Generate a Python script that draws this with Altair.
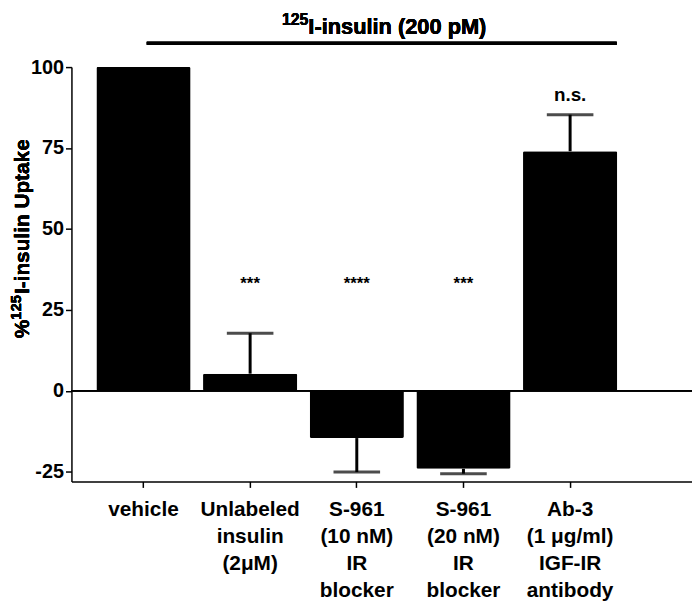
import altair as alt
import pandas as pd

categories = [
    "vehicle",
    "Unlabeled\ninsulin\n(2μM)",
    "S-961\n(10 nM)\nIR\nblocker",
    "S-961\n(20 nM)\nIR\nblocker",
    "Ab-3\n(1 μg/ml)\nIGF-IR\nantibody",
]
values = [100, 5.3, -14.6, -24.1, 74.0]

err_categories = categories[1:]
err_ends = [17.8, -25.1, -25.6, 85.3]
err_starts = values[1:]

sig_categories = categories[1:]
sig_labels = ["***", "****", "***", "n.s."]
sig_y = [33.0, 33.0, 33.0, 91.5]

y_ticks = [-25, 0, 25, 50, 75, 100]
y_domain = [-28, 100]

FONT = "Liberation Sans"

bars_df = pd.DataFrame({"cat": categories, "val": values})
err_df = pd.DataFrame({"cat": err_categories, "start": err_starts, "end": err_ends})
sig_df = pd.DataFrame({"cat": sig_categories, "label": sig_labels, "y": sig_y})
sig_star = sig_df[sig_df["label"] != "n.s."]
sig_ns = sig_df[sig_df["label"] == "n.s."]

W, H = 626, 418

x_scale = alt.Scale(paddingInner=0.117, paddingOuter=0.4675, align=0.25)
y_scale = alt.Scale(domain=y_domain, nice=False, zero=False)

x_enc = alt.X(
    "cat:N",
    sort=categories,
    scale=x_scale,
    axis=alt.Axis(
        title=None,
        labelAngle=0,
        labelExpr="split(datum.label, '\\n')",
        labelFont=FONT,
        labelFontSize=21,
        labelFontWeight="bold",
        labelLineHeight=27.5,
        labelColor="black",
        labelPadding=11,
        labelBaseline="top",
        tickSize=6,
        tickWidth=1.5,
        tickColor="black",
        domainColor="black",
        domainWidth=1.5,
    ),
)

y_axis = alt.Axis(
    title=None,
    values=y_ticks,
    grid=False,
    labelExpr="'' + datum.value",
    labelFont=FONT,
    labelFontSize=20,
    labelFontWeight="bold",
    labelColor="black",
    labelPadding=2,
    tickSize=6,
    tickWidth=1.5,
    tickColor="black",
    domainColor="black",
    domainWidth=1.5,
)

bars = alt.Chart(bars_df).mark_bar(color="black", cornerRadius=1.5).encode(
    x=x_enc,
    y=alt.Y("val:Q", scale=y_scale, axis=y_axis),
)

zero_line = alt.Chart(bars_df).mark_rule(color="black", strokeWidth=1.5).encode(
    y=alt.datum(0),
    x=alt.value(0),
    x2=alt.value(W),
)

err_rule = alt.Chart(err_df).mark_rule(color="black", strokeWidth=3).encode(
    x=alt.X("cat:N", sort=categories),
    y=alt.Y("start:Q"),
    y2="end:Q",
)

err_cap = alt.Chart(err_df).mark_tick(color="black", thickness=3, size=47, orient="horizontal").encode(
    x=alt.X("cat:N", sort=categories),
    y=alt.Y("end:Q"),
)

stars = alt.Chart(sig_star).mark_text(
    font=FONT, fontSize=17, fontWeight="bold", color="black", baseline="middle"
).encode(
    x=alt.X("cat:N", sort=categories),
    y=alt.Y("y:Q"),
    text="label:N",
)

ns = alt.Chart(sig_ns).mark_text(
    font=FONT, fontSize=19, fontWeight="bold", color="black", baseline="middle"
).encode(
    x=alt.X("cat:N", sort=categories),
    y=alt.Y("y:Q"),
    text="label:N",
)

# y-axis title with superscript
ytitle_main = alt.Chart(bars_df).mark_text(
    text="I-insulin Uptake", font=FONT, fontSize=21, fontWeight="bold", color="black",
    angle=270, align="left", baseline="alphabetic",
).encode(x=alt.value(-43), y=alt.value(229))
ytitle_sup = alt.Chart(bars_df).mark_text(
    text="125", font=FONT, fontSize=15, fontWeight="bold", color="black",
    angle=270, align="right", baseline="alphabetic",
).encode(x=alt.value(-51), y=alt.value(230))
ytitle_pct = alt.Chart(bars_df).mark_text(
    text="%", font=FONT, fontSize=21, fontWeight="bold", color="black",
    angle=270, align="right", baseline="alphabetic",
).encode(x=alt.value(-43), y=alt.value(255))

# top bracket title
top_line = alt.Chart(bars_df).mark_rule(color="black", strokeWidth=3).encode(
    x=alt.value(76), x2=alt.value(550), y=alt.value(-24)
)
top_main = alt.Chart(bars_df).mark_text(
    text="I-insulin (200 pM)", font=FONT, fontSize=22, fontWeight="bold", color="black",
    align="left", baseline="alphabetic",
).encode(x=alt.value(239), y=alt.value(-33))
top_sup = alt.Chart(bars_df).mark_text(
    text="125", font=FONT, fontSize=16, fontWeight="bold", color="black",
    align="right", baseline="alphabetic",
).encode(x=alt.value(239), y=alt.value(-42))

chart = alt.layer(
    bars, zero_line, err_rule, err_cap, stars, ns,
    ytitle_main, ytitle_sup, ytitle_pct, top_line, top_main, top_sup,
).properties(
    width=W,
    height=H,
    autosize=alt.AutoSizeParams(type="none"),
    padding={"left": 64, "top": 57, "right": 0, "bottom": 120},
).configure_view(stroke="transparent")

chart.save("out.html", embed_options={"renderer": "svg", "actions": False})
